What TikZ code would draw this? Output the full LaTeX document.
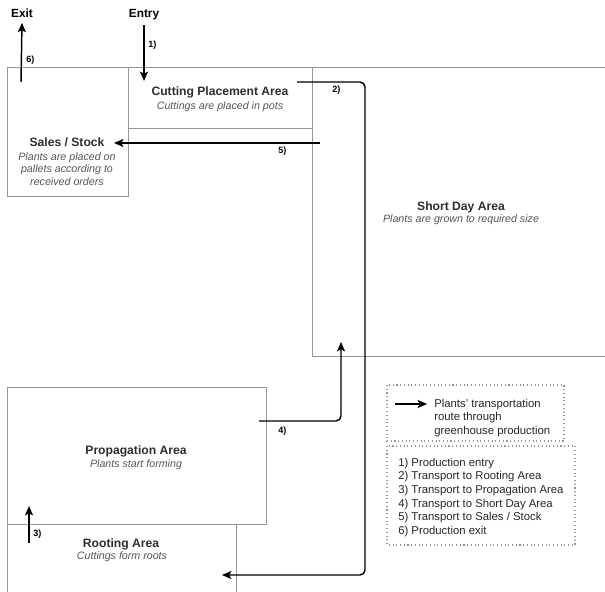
\documentclass[tikz,border=0pt]{standalone}
\usepackage{fontspec}
\setmainfont{Liberation Sans}
\usetikzlibrary{arrows.meta}
\definecolor{boxline}{RGB}{150,150,150}
\definecolor{titlegray}{RGB}{45,45,45}
\definecolor{notegray}{RGB}{85,85,85}
\tikzset{
  area/.style={draw=boxline, line width=0.6pt},
  areatitle/.style={anchor=base, inner sep=0pt, text=titlegray, font=\fontsize{9.1}{11}\selectfont\bfseries},
  areanote/.style={anchor=base, inner sep=0pt, align=center, text=notegray, font=\fontsize{8}{9.4}\selectfont\itshape},
  endlabel/.style={anchor=base, font=\fontsize{8.9}{11}\selectfont\bfseries},
  route/.style={line width=1.1pt, rounded corners=3.8pt, -{Stealth[length=7pt,width=6pt,inset=1.5pt]}},
  steplabel/.style={anchor=base west, inner sep=0pt, font=\fontsize{6.8}{8}\selectfont\bfseries},
  legendbox/.style={draw=boxline, dotted, line width=0.8pt},
  legendtext/.style={anchor=base west, inner sep=0pt, text=black!85, font=\fontsize{8.5}{10}\selectfont},
}
\begin{document}
\begin{tikzpicture}[x=0.75pt,y=-0.75pt]
\useasboundingbox (0,0) rectangle (605,591);
\clip (0,0) rectangle (605,591);
% greenhouse areas
\draw[area] (7,67) rectangle (128,196);
\draw[area] (128,67) rectangle (312,128);
\draw[area] (312,67) rectangle (620,356);
\draw[area] (7,387) rectangle (266,524);
\draw[area] (7,524) rectangle (236,600);
\node[areatitle] (salesT) at (67,147) {Sales / Stock};
\node[areanote, anchor=north] (salesN) at (67,152.3) {Plants are placed on\\pallets according to\\received orders};
\node[areatitle] (cuttingT) at (220,96) {Cutting Placement Area};
\node[areanote] (cuttingN) at (220,110) {Cuttings are placed in pots};
\node[areatitle] (shortT) at (461,210) {Short Day Area};
\node[areanote] (shortN) at (461,223) {Plants are grown to required size};
\node[areatitle] (propT) at (136,454) {Propagation Area};
\node[areanote] (propN) at (136,467) {Plants start forming};
\node[areatitle] (rootT) at (121,547) {Rooting Area};
\node[areanote] (rootN) at (122,559) {Cuttings form roots};
% entry and exit
\node[endlabel] (exit) at (22,18) {Exit};
\node[endlabel] (entry) at (144,18) {Entry};
\coordinate (in1) at (144,81);
\coordinate (out6) at (21,82);
\draw[route] (entry.south) -- (in1);
\draw[route] (out6) -- (exit.south);
% transport routes
\coordinate (r2a) at (297,82);
\coordinate (r2b) at (222,575);
\draw[route] (r2a) -- (365,82) -- (365,575) -- (r2b);
\coordinate (r3a) at (29,543);
\coordinate (r3b) at (29,506);
\draw[route] (r3a) -- (r3b);
\coordinate (r4a) at (259,421);
\coordinate (r4b) at (341,342);
\draw[route] (r4a) -- (341,421) -- (r4b);
\coordinate (r5a) at (320,143);
\coordinate (r5b) at (114,143);
\draw[route] (r5a) -- (r5b);
\node[steplabel] (s1) at (148,48) {1)};
\node[steplabel] (s2) at (332,93) {2)};
\node[steplabel] (s3) at (33,536) {3)};
\node[steplabel] (s4) at (278,433) {4)};
\node[steplabel] (s5) at (278,154) {5)};
\node[steplabel] (s6) at (26,63) {6)};
% legend
\draw[legendbox] (387,385) rectangle (564,441);
\draw[legendbox] (387,446) rectangle (575,545);
\coordinate (keyA) at (395,404);
\coordinate (keyB) at (427,404);
\draw[route] (keyA) -- (keyB);
\foreach \txt [count=\i] in {{Plants' transportation},{route through},{greenhouse production}}
  \node[legendtext] (key\i) at (434,{407+13.5*(\i-1)}) {\txt};
\foreach \txt [count=\i] in {{1) Production entry},{2) Transport to Rooting Area},{3) Transport to Propagation Area},{4) Transport to Short Day Area},{5) Transport to Sales / Stock},{6) Production exit}}
  \node[legendtext] (step\i) at (398,{466+13.7*(\i-1)}) {\txt};
\end{tikzpicture}
\end{document}
